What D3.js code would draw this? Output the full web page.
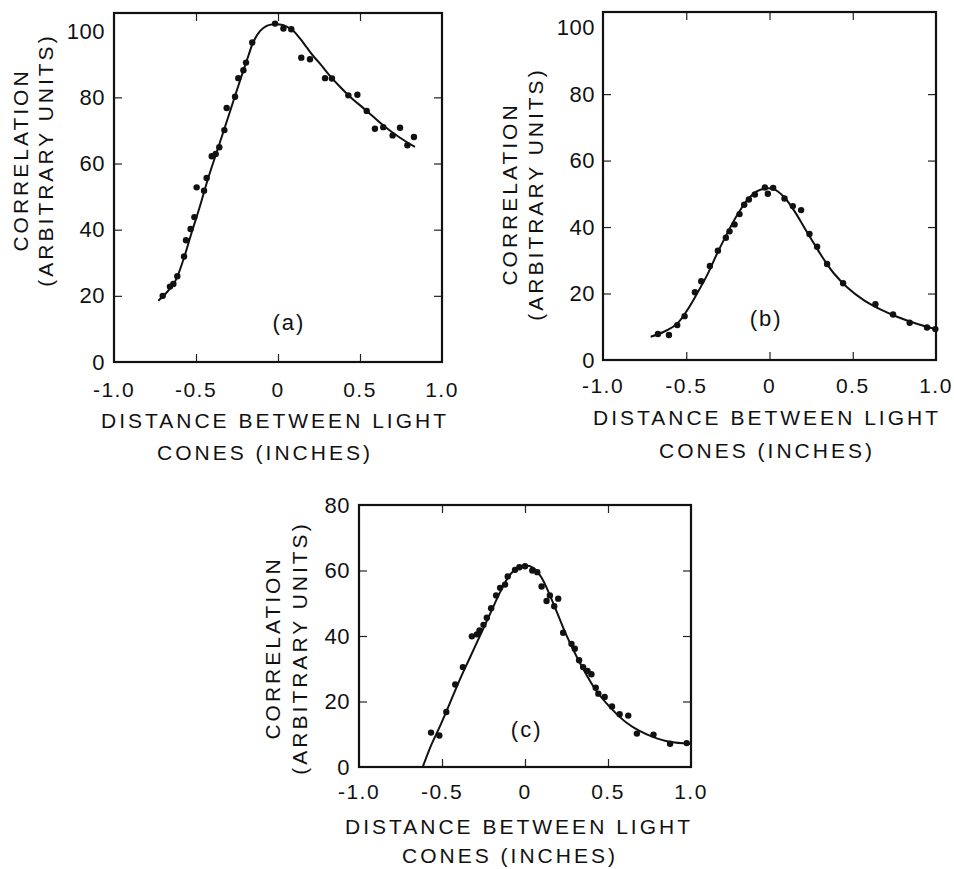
<!DOCTYPE html>
<html>
<head>
<meta charset="utf-8">
<script src="https://cdn.jsdelivr.net/npm/d3@7"></script>
<style>
  html, body { margin: 0; padding: 0; background: #fff; }
  svg { display: block; }
  text { font-family: "Liberation Sans", Arial, sans-serif; fill: #111; }
</style>
</head>
<body>
<svg id="chart" width="954" height="869"></svg>
<script>
// ---------------- DATA ----------------
const xTickValues = [-1.0, -0.5, 0, 0.5, 1.0];
const xTickLabels = ["-1.0", "-0.5", "0", "0.5", "1.0"];
const yTickValuesAB = [0, 20, 40, 60, 80, 100];
const yTickLabelsAB = ["0", "20", "40", "60", "80", "100"];
const yTickValuesC = [0, 20, 40, 60, 80];
const yTickLabelsC = ["0", "20", "40", "60", "80"];
const xTitleLines = ["DISTANCE BETWEEN LIGHT", "CONES (INCHES)"];
const yTitleLines = ["CORRELATION", "(ARBITRARY UNITS)"];
const panelLetters = ["(a)", "(b)", "(c)"];

// Panel (a) measured points
const aPointsX = [-0.703,-0.659,-0.638,-0.614,-0.573,-0.561,-0.533,-0.510,-0.496,-0.451,-0.435,-0.404,-0.380,-0.358,-0.327,-0.313,-0.262,-0.242,-0.211,-0.195,-0.157,-0.018,0.033,0.081,0.142,0.195,0.287,0.329,0.429,0.484,0.541,0.591,0.642,0.699,0.744,0.789,0.829];
const aPointsY = [20.0,22.8,23.6,25.9,31.9,36.8,40.2,43.8,52.8,51.8,55.6,62.2,62.9,64.9,70.1,76.8,80.2,85.8,88.2,90.5,96.6,102.3,100.8,100.6,92.0,91.5,85.8,85.7,80.6,80.8,75.9,70.5,71.0,68.5,70.8,65.5,68.0];
// Panel (a) fitted curve
const aCurveX = [-0.730,-0.679,-0.628,-0.577,-0.526,-0.476,-0.425,-0.374,-0.323,-0.272,-0.222,-0.181,-0.150,-0.110,-0.069,-0.028,0.012,0.053,0.093,0.134,0.175,0.215,0.256,0.317,0.378,0.439,0.541,0.642,0.744,0.835];
const aCurveY = [18.5,21.0,24.3,30.9,39.2,47.1,55.7,63.4,71.1,78.9,86.5,92.5,96.8,100.0,101.6,102.1,102.0,101.4,100.1,97.8,95.1,92.5,90.2,86.5,83.2,80.2,75.9,71.5,67.8,65.0];

// Panel (b) measured points
const bPointsX = [-0.670,-0.604,-0.554,-0.510,-0.448,-0.410,-0.358,-0.310,-0.262,-0.240,-0.210,-0.180,-0.152,-0.124,-0.088,-0.028,-0.010,0.022,0.090,0.140,0.190,0.240,0.286,0.346,0.442,0.636,0.742,0.842,0.946,0.996];
const bPointsY = [7.8,7.5,10.5,13.2,20.4,23.7,28.3,32.9,36.8,38.7,40.8,43.9,46.7,48.3,49.8,51.9,50.0,51.8,48.6,46.3,45.1,37.9,34.1,28.9,23.1,16.8,13.7,11.2,9.8,9.3];
// Panel (b) fitted curve
const bCurveX = [-0.714,-0.634,-0.554,-0.494,-0.434,-0.374,-0.314,-0.254,-0.194,-0.134,-0.074,-0.024,0.026,0.086,0.146,0.206,0.266,0.326,0.386,0.466,0.566,0.666,0.766,0.866,0.996];
const bCurveY = [7.0,8.5,11.0,15.0,20.1,25.6,32.1,38.1,43.6,48.1,50.8,51.6,51.4,49.1,45.1,40.1,35.1,30.3,26.1,21.9,18.0,15.2,13.0,11.2,9.3];

// Panel (c) measured points
const cPointsX = [-0.566,-0.516,-0.474,-0.420,-0.374,-0.320,-0.290,-0.274,-0.250,-0.230,-0.204,-0.174,-0.150,-0.120,-0.104,-0.060,-0.034,0.000,0.044,0.074,0.100,0.150,0.130,0.176,0.200,0.230,0.280,0.300,0.326,0.350,0.376,0.400,0.426,0.442,0.480,0.524,0.570,0.622,0.674,0.774,0.874,0.974];
const cPointsY = [10.5,9.6,16.8,25.2,30.5,39.9,40.5,41.7,43.4,45.6,48.5,52.4,54.7,55.7,58.2,60.2,61.0,61.3,60.0,59.5,55.1,52.4,50.7,49.1,51.4,41.0,37.6,36.1,32.6,30.5,29.3,28.3,24.2,22.4,21.4,18.5,16.1,15.7,10.2,9.9,7.1,7.3];
// Panel (c) fitted curve
const cCurveX = [-0.616,-0.570,-0.510,-0.450,-0.390,-0.330,-0.270,-0.210,-0.150,-0.100,-0.050,0.000,0.050,0.100,0.150,0.200,0.250,0.310,0.370,0.430,0.490,0.550,0.610,0.690,0.770,0.870,0.996];
const cCurveY = [0.0,6.1,12.7,19.8,27.0,33.6,40.2,46.8,53.4,58.0,60.7,61.5,60.8,57.8,52.4,46.3,40.2,33.8,28.2,23.2,19.5,16.3,13.6,11.0,9.2,7.7,7.1];

// ---------------- LAYOUT ----------------
const panels = [
  { left: 114, right: 442, top: 13, bottom: 362, yMax: 105.5,
    yTicks: yTickValuesAB, yLabels: yTickLabelsAB, innerY: [20,40,60,80],
    px: aPointsX, py: aPointsY, cx: aCurveX, cy: aCurveY,
    letter: panelLetters[0], letterAt: [0.067, 12],
    yTitleX: [20, 45], yTitleCY: 160,
    xTitleCX: [275, 265], xTickDy: 35, xTitleDy: [66, 98], yLabelGap: 9 },
  { left: 603, right: 936, top: 12, bottom: 360, yMax: 104.7,
    yTicks: yTickValuesAB, yLabels: yTickLabelsAB, innerY: [20,40,60,80],
    px: bPointsX, py: bPointsY, cx: bCurveX, cy: bCurveY,
    letter: panelLetters[1], letterAt: [-0.02, 12.6],
    yTitleX: [509, 535], yTitleCY: 194,
    xTitleCX: [767, 767], xTickDy: 33, xTitleDy: [65, 98], yLabelGap: 8 },
  { left: 359, right: 691, top: 505, bottom: 767, yMax: 80,
    yTicks: yTickValuesC, yLabels: yTickLabelsC, innerY: [20,40,60],
    px: cPointsX, py: cPointsY, cx: cCurveX, cy: cCurveY,
    letter: panelLetters[2], letterAt: [0.01, 11.3],
    yTitleX: [272, 299], yTitleCY: 648,
    xTitleCX: [519, 510], xTickDy: 32, xTitleDy: [67, 96], yLabelGap: 9 }
];

const svg = d3.select("#chart");
svg.append("rect").attr("width", 954).attr("height", 869).attr("fill", "#fff");

panels.forEach(p => {
  const x = d3.scaleLinear().domain([-1, 1]).range([p.left, p.right]);
  const y = d3.scaleLinear().domain([0, p.yMax]).range([p.bottom, p.top]);
  const g = svg.append("g");

  // inward ticks on all four sides
  const tk = 8;
  const styleAxis = sel => {
    sel.select(".domain").remove();
    sel.selectAll(".tick line").attr("stroke", "#222").attr("stroke-width", 1.2);
  };
  g.append("g").attr("transform", `translate(0,${p.bottom})`)
    .call(d3.axisBottom(x).tickValues([-0.5, 0, 0.5]).tickSize(-tk).tickFormat(""))
    .call(styleAxis);
  g.append("g").attr("transform", `translate(0,${p.top})`)
    .call(d3.axisTop(x).tickValues([-0.5, 0, 0.5]).tickSize(-tk).tickFormat(""))
    .call(styleAxis);
  g.append("g").attr("transform", `translate(${p.left},0)`)
    .call(d3.axisLeft(y).tickValues(p.innerY).tickSize(-tk).tickFormat(""))
    .call(styleAxis);
  g.append("g").attr("transform", `translate(${p.right},0)`)
    .call(d3.axisRight(y).tickValues(p.innerY).tickSize(-tk).tickFormat(""))
    .call(styleAxis);

  // frame
  g.append("rect")
    .attr("x", p.left).attr("y", p.top)
    .attr("width", p.right - p.left).attr("height", p.bottom - p.top)
    .attr("fill", "none").attr("stroke", "#111").attr("stroke-width", 2.2);

  // x tick labels
  g.selectAll(".xtl").data(xTickValues).enter().append("text")
    .attr("x", d => x(d)).attr("y", p.bottom + p.xTickDy)
    .attr("text-anchor", "middle")
    .style("font-size", "21px").style("letter-spacing", "1.5px")
    .text((d, i) => xTickLabels[i]);

  // y tick labels
  g.selectAll(".ytl").data(p.yTicks).enter().append("text")
    .attr("x", p.left - p.yLabelGap).attr("y", d => y(d))
    .attr("text-anchor", "end").attr("dominant-baseline", "central")
    .style("font-size", "22px").style("letter-spacing", "0.5px")
    .text((d, i) => p.yLabels[i]);

  // x title
  xTitleLines.forEach((t, i) => {
    g.append("text")
      .attr("x", p.xTitleCX[i]).attr("y", p.bottom + p.xTitleDy[i])
      .attr("text-anchor", "middle")
      .style("font-size", "21px").style("letter-spacing", "3px")
      .text(t);
  });

  // y title (rotated)
  yTitleLines.forEach((t, i) => {
    g.append("text")
      .attr("transform", `translate(${p.yTitleX[i]},${p.yTitleCY}) rotate(-90)`)
      .attr("text-anchor", "middle").attr("dominant-baseline", "central")
      .style("font-size", "21px").style("letter-spacing", "3px")
      .text(t);
  });

  // fitted curve
  const curvePts = p.cx.map((v, i) => [v, p.cy[i]]);
  g.append("path")
    .datum(curvePts)
    .attr("fill", "none").attr("stroke", "#111").attr("stroke-width", 2)
    .attr("d", d3.line().x(d => x(d[0])).y(d => y(d[1])).curve(d3.curveCatmullRom.alpha(0.5)));

  // points
  const pts = p.px.map((v, i) => [v, p.py[i]]);
  g.selectAll(".pt").data(pts).enter().append("circle")
    .attr("cx", d => x(d[0])).attr("cy", d => y(d[1])).attr("r", 3.2)
    .attr("fill", "#111");

  // panel letter
  g.append("text")
    .attr("x", x(p.letterAt[0])).attr("y", y(p.letterAt[1]))
    .attr("text-anchor", "middle").attr("dominant-baseline", "central")
    .style("font-size", "22px").style("letter-spacing", "2px")
    .text(p.letter);
});
</script>
</body>
</html>
